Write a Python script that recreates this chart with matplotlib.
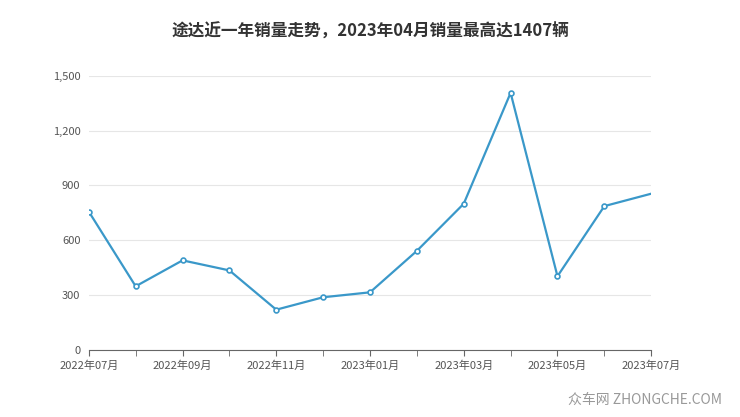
import matplotlib
matplotlib.use('Agg')
import matplotlib.pyplot as plt
from matplotlib.ticker import FuncFormatter

plt.rcParams['font.family'] = ['Noto Sans CJK SC', 'DejaVu Sans']

months = ['2022年07月', '2022年08月', '2022年09月', '2022年10月', '2022年11月', '2022年12月',
          '2023年01月', '2023年02月', '2023年03月', '2023年04月', '2023年05月', '2023年06月', '2023年07月']
sales = [757, 348, 490, 435, 220, 288, 315, 542, 800, 1407, 403, 787, 855]

fig = plt.figure(figsize=(7.4, 4.17), dpi=100)
ax = fig.add_axes([0.12, 0.161, 0.76, 0.657])

x = list(range(len(months)))
ax.plot(x, sales, color='#3a98c9', linewidth=1.6, zorder=3)
ax.plot(x[:-1], sales[:-1], 'o', markersize=3.5, markerfacecolor='white',
        markeredgecolor='#3a98c9', markeredgewidth=1.2, zorder=4)

ax.set_xlim(0, len(months) - 1)
ax.set_ylim(0, 1500)
ax.set_yticks([0, 300, 600, 900, 1200, 1500])
ax.yaxis.set_major_formatter(FuncFormatter(lambda v, p: f'{int(v):,}'))
ax.set_xticks(x[::2])
ax.set_xticklabels(months[::2])
ax.set_xticks(x, minor=True)
ax.grid(axis='y', color='#e6e6e6', linewidth=0.8)
for s in ['top', 'right', 'left']:
    ax.spines[s].set_visible(False)
ax.spines['bottom'].set_color('#666666')
ax.tick_params(axis='y', length=0, labelsize=8, colors='#555555', pad=6)
ax.tick_params(axis='x', which='both', length=4, color='#666666', labelsize=8, labelcolor='#555555')

fig.text(0.5, 0.925, '途达近一年销量走势，2023年04月销量最高达1407辆', ha='center', va='center',
         fontsize=12, fontweight='bold', color='#333333')
fig.text(0.975, 0.04, '众车网 ZHONGCHE.COM', ha='right', va='center', fontsize=10, color='#999999')

plt.savefig('out.png', dpi=100)
